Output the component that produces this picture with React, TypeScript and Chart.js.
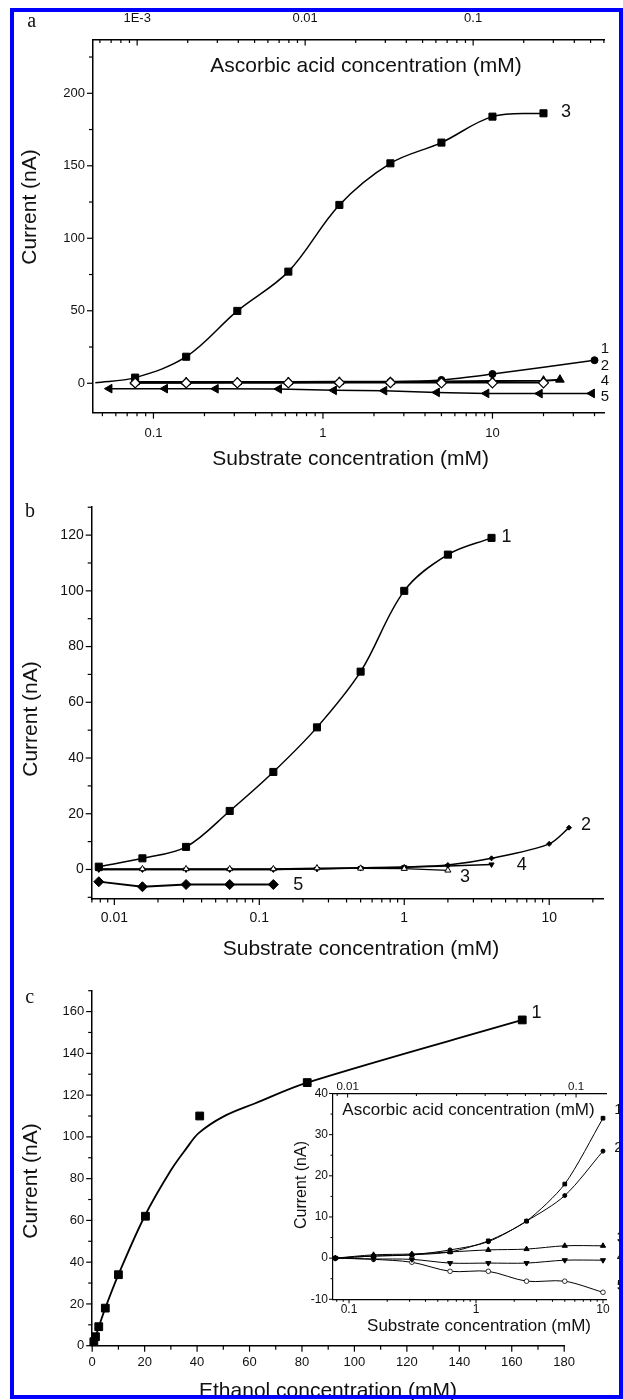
import React, { useEffect, useRef } from 'react';
import { Chart, registerables } from 'chart.js';

Chart.register(...registerables);

const SANS = '"Liberation Sans", Arial, Helvetica, sans-serif';
const SERIF = '"Liberation Serif", "Times New Roman", Times, serif';
const INK = '#111111';

// ======================= DATA =======================
// Panel a : substrate concentration (mM, log) vs current (nA)
const aS3X = [0.0454, 0.078, 0.156, 0.3125, 0.625, 1.25, 2.5, 5, 10, 20];
const aS3Y = [0.4, 3.9, 18.3, 49.9, 77, 123, 151.7, 166, 183.9, 186.2];
const aS1X = [0.078, 0.156, 0.3125, 0.625, 1.25, 2.5, 5, 10, 40];
const aS1Y = [0.3, 0.3, 0.3, 0.4, 0.6, 1.0, 2.3, 6.4, 15.9];
const aS2X = [0.078, 0.156, 0.3125, 0.625, 1.25, 2.5, 5, 10, 20];
const aS2Y = [0.2, 0.2, 0.3, 0.3, 0.4, 0.4, 0.3, 0.3, 0.3];
const aS4X = [0.078, 0.156, 0.3125, 0.625, 1.25, 2.5, 5, 10, 20, 25];
const aS4Y = [0.8, 0.8, 0.8, 0.9, 1.0, 1.0, 1.2, 1.5, 1.8, 2.5];
const aS5X = [0.055, 0.117, 0.233, 0.55, 1.16, 2.3, 4.7, 9.2, 19, 38.6];
const aS5Y = [-3.7, -3.7, -3.8, -3.9, -4.9, -5.1, -6.3, -7.0, -7.1, -7.0];
const aXTicks = [0.1, 1, 10];
const aXLabels = ['0.1', '1', '10'];
const aTopTicks = [0.001, 0.01, 0.1];
const aTopLabels = ['1E-3', '0.01', '0.1'];
const aYTicks = [0, 50, 100, 150, 200];
const aYLabels = ['0', '50', '100', '150', '200'];
const aYMinor = [25, 75, 125, 175, 225];
const aXRange = [0.044, 45.5];
const aTopRange = [5.46e-4, 0.601];
const aYRange = [-20.3, 237.1];

// Panel b
const bConc = [0.0078125, 0.015625, 0.03125, 0.0625, 0.125, 0.25, 0.5, 1, 2, 4];
const bS1Y = [1, 4, 8.1, 21, 35, 51, 71, 100, 113, 119];
const bS2X = [0.0078125, 0.015625, 0.03125, 0.0625, 0.125, 0.25, 0.5, 1, 2, 4, 10, 13.7];
const bS2Y = [0, 0, 0, 0, 0, 0.3, 0.6, 0.9, 1.6, 4, 9.2, 15];
const bS3X = [0.0078125, 0.015625, 0.03125, 0.0625, 0.125, 0.25, 0.5, 1, 2];
const bS3Y = [0.2, 0.2, 0.2, 0.2, 0.2, 0.5, 0.4, 0.3, -0.3];
const bS4Y = [0, 0, 0, 0, 0, 0.2, 0.5, 0.8, 1.2, 1.8];
const bS5X = [0.0078125, 0.015625, 0.03125, 0.0625, 0.125];
const bS5Y = [-4.4, -6.2, -5.4, -5.4, -5.4];
const bXTicks = [0.01, 0.1, 1, 10];
const bXLabels = ['0.01', '0.1', '1', '10'];
const bYTicks = [0, 20, 40, 60, 80, 100, 120];
const bYLabels = ['0', '20', '40', '60', '80', '100', '120'];
const bYMinor = [-10, 10, 30, 50, 70, 90, 110, 130];
const bXRange = [0.00698, 23.5];
const bYRange = [-10.6, 130.2];

// Panel c : ethanol concentration (mM) vs current (nA)
const cX = [0.625, 1.25, 2.5, 5, 10, 20.3, 41, 82, 164];
const cY = [1.9, 4.3, 9.1, 18, 34, 62, 110, 126, 156];
const cFitX = [0, 1.25, 2.5, 5, 10, 20, 30, 36, 40.6, 50, 62, 82, 164];
const cFitY = [0, 4.3, 9, 18, 34, 62, 84, 94.6, 101.8, 109.7, 116, 126, 156];
const cXTicks = [0, 20, 40, 60, 80, 100, 120, 140, 160, 180];
const cXLabels = ['0', '20', '40', '60', '80', '100', '120', '140', '160', '180'];
const cXMinor = [10, 30, 50, 70, 90, 110, 130, 150, 170];
const cYTicks = [0, 20, 40, 60, 80, 100, 120, 140, 160];
const cYLabels = ['0', '20', '40', '60', '80', '100', '120', '140', '160'];
const cYMinor = [10, 30, 50, 70, 90, 110, 130, 150, 170];
const cXRange = [0, 180];
const cYRange = [0, 170];

// Inset
const iConc = [0.078, 0.156, 0.3125, 0.625, 1.25, 2.5, 5, 10];
const iS1 = [0, 0.5, 0.8, 1.5, 4.2, 9, 18, 34];
const iS2 = [0, 0.5, 0.8, 2, 4, 9, 15.2, 26];
const iS3 = [0, 0.8, 1.0, 1.5, 2.0, 2.2, 3.0, 3.0];
const iS4 = [0, -0.2, -0.3, -1.2, -1.2, -1.2, -0.5, -0.5];
const iS5 = [0, -0.3, -1, -3.2, -3.2, -5.6, -5.6, -8.3];
const iXTicks = [0.1, 1, 10];
const iXLabels = ['0.1', '1', '10'];
const iTopTicks = [0.01, 0.1];
const iTopLabels = ['0.01', '0.1'];
const iYTicks = [-10, 0, 10, 20, 30, 40];
const iYLabels = ['-10', '0', '10', '20', '30', '40'];
const iYMinor = [-5, 5, 15, 25, 35];
const iXRange = [0.0748, 10.56];
const iTopRange = [0.00863, 0.1352];
const iYRange = [-10, 40];

// ======================= HELPERS =======================
function logMinors(min: number, max: number): number[] {
  const out: number[] = [];
  for (let e = Math.floor(Math.log10(min)); e <= Math.ceil(Math.log10(max)); e++) {
    for (let m = 2; m <= 9; m++) {
      const v = parseFloat((m * Math.pow(10, e)).toPrecision(6));
      if (v >= min && v <= max) out.push(v);
    }
  }
  return out;
}

const pts = (xs: number[], ys: number[]) => xs.map((x, i) => ({ x, y: ys[i] }));

function axis(o: any) {
  return {
    type: o.type,
    position: o.position,
    min: o.range[0],
    max: o.range[1],
    bounds: 'data',
    grid: {
      display: true,
      drawOnChartArea: false,
      drawTicks: o.tl > 0,
      tickLength: o.tl,
      tickColor: 'rgba(0,0,0,0)',
    },
    border: { display: true, color: '#000', width: o.bw },
    ticks: {
      autoSkip: false,
      maxRotation: 0,
      minRotation: 0,
      padding: o.pad,
      color: INK,
      font: { family: SANS, size: o.fontSize },
      callback: (v: number) => {
        const i = o.major.findIndex((m: number) => Math.abs(m - v) <= Math.abs(m) * 1e-6 + 1e-12);
        return i >= 0 ? o.labels[i] : '';
      },
    },
    afterBuildTicks: (s: any) => {
      s.ticks = o.major.filter((v: number) => v >= o.range[0] && v <= o.range[1]).map((v: number) => ({ value: v }));
    },
    afterFit: (s: any) => {
      if (o.position === 'left') s.width = o.size;
      else s.height = o.size;
    },
  };
}

function ds(data: any[], o: any) {
  return {
    data,
    showLine: o.line !== false,
    borderColor: '#000',
    borderWidth: o.lw ?? 1.5,
    cubicInterpolationMode: 'default',
    tension: o.tension ?? 0,
    pointStyle: o.style,
    pointRadius: o.r,
    pointRotation: o.rot ?? 0,
    pointBackgroundColor: o.fill ?? '#000',
    pointBorderColor: '#000',
    pointBorderWidth: o.bw ?? 1,
    fill: false,
    clip: false,
  };
}

function makeDeco(spec: any) {
  return {
    id: 'deco',
    afterDraw(chart: any) {
      const ctx = chart.ctx;
      ctx.save();
      ctx.strokeStyle = '#000';
      ctx.lineCap = 'butt';
      for (const t of spec.ticks) {
        const sc = chart.scales[t.id];
        if (!sc) continue;
        ctx.lineWidth = t.width;
        const draw = (v: number, len: number) => {
          if (v < sc.min - 1e-12 || v > sc.max + 1e-12) return;
          const p = sc.getPixelForValue(v);
          ctx.beginPath();
          if (sc.isHorizontal()) {
            const base = sc.position === 'top' ? sc.bottom : sc.top;
            const dir = (sc.position === 'top' ? -1 : 1) * (t.inward ? -1 : 1);
            ctx.moveTo(p, base);
            ctx.lineTo(p, base + dir * len);
          } else {
            const base = sc.right;
            const dir = t.inward ? 1 : -1;
            ctx.moveTo(base, p);
            ctx.lineTo(base + dir * len, p);
          }
          ctx.stroke();
        };
        t.minor.forEach((v: number) => draw(v, t.minorLen));
        t.major.forEach((v: number) => draw(v, t.majorLen));
      }
      for (const tx of spec.texts) {
        ctx.save();
        ctx.fillStyle = INK;
        ctx.font = `${tx.size}px ${tx.font || SANS}`;
        ctx.textAlign = 'center';
        ctx.textBaseline = 'middle';
        const x = tx.x - spec.rect.left;
        const y = tx.y - spec.rect.top;
        if (tx.rotate) {
          ctx.translate(x, y);
          ctx.rotate(-Math.PI / 2);
          ctx.fillText(tx.text, 0, 0);
        } else {
          ctx.fillText(tx.text, x, y);
        }
        ctx.restore();
      }
      ctx.restore();
    },
  };
}

// ======================= PANELS =======================
const panelA = {
  rect: { left: 0, top: 0, width: 623, height: 480 },
  padding: { left: 0, top: 0, right: 19, bottom: 480 - 412.7 - 30 },
  scales: {
    x: axis({ type: 'logarithmic', position: 'bottom', range: aXRange, major: aXTicks, labels: aXLabels, size: 30, tl: 6, pad: 6.8, fontSize: 13, bw: 1.5 }),
    x2: axis({ type: 'logarithmic', position: 'top', range: aTopRange, major: aTopTicks, labels: aTopLabels, size: 39.5, tl: 6, pad: 7.4, fontSize: 13, bw: 1.5 }),
    y: axis({ type: 'linear', position: 'left', range: aYRange, major: aYTicks, labels: aYLabels, size: 93, tl: 6, pad: 2, fontSize: 13, bw: 1.5 }),
  },
  datasets: [
    ds(pts(aS2X, aS2Y), { style: 'rectRot', r: 5, fill: '#fff', bw: 1.2, lw: 1.5 }),
    { ...ds(pts(aS3X, aS3Y), { style: 'rect', r: 5, lw: 1.5, tension: 0.35 }), pointRadius: (c: any) => (c.dataIndex === 0 ? 0 : 5) },
    ds(pts(aS1X, aS1Y), { style: 'circle', r: 3.5, lw: 1.5, tension: 0.3 }),
    ds(pts(aS4X, aS4Y), { style: 'triangle', r: 5, lw: 2 }),
    ds(pts(aS5X, aS5Y), { style: 'triangle', rot: -90, r: 5, lw: 1.5 }),
  ],
  ticks: [
    { id: 'x', major: aXTicks, minor: logMinors(aXRange[0], aXRange[1]), majorLen: 6, minorLen: 3.5, width: 1.2 },
    { id: 'x2', major: aTopTicks, minor: logMinors(aTopRange[0], aTopRange[1]), majorLen: 6, minorLen: 3.5, width: 1.2, inward: true },
    { id: 'y', major: aYTicks, minor: aYMinor, majorLen: 6, minorLen: 4, width: 1.2 },
  ],
  texts: [
    { text: 'a', x: 31.8, y: 21.7, size: 20, font: SERIF },
    { text: 'Ascorbic acid concentration (mM)', x: 366, y: 66.7, size: 21 },
    { text: 'Substrate concentration (mM)', x: 350.6, y: 459, size: 21 },
    { text: 'Current (nA)', x: 30, y: 207, size: 21, rotate: true },
    { text: '3', x: 566, y: 111.7, size: 18 },
    { text: '1', x: 605, y: 349, size: 15 },
    { text: '2', x: 605, y: 366, size: 15 },
    { text: '4', x: 605, y: 381, size: 15 },
    { text: '5', x: 605, y: 396.5, size: 15 },
  ],
};

const panelB = {
  rect: { left: 0, top: 480, width: 623, height: 480 },
  padding: { left: 0, top: 506.7 - 480, right: 20, bottom: 960 - 899 - 30 },
  scales: {
    x: axis({ type: 'logarithmic', position: 'bottom', range: bXRange, major: bXTicks, labels: bXLabels, size: 30, tl: 6, pad: 4.9, fontSize: 14, bw: 1.5 }),
    y: axis({ type: 'linear', position: 'left', range: bYRange, major: bYTicks, labels: bYLabels, size: 91.7, tl: 6, pad: 2, fontSize: 14, bw: 1.5 }),
  },
  datasets: [
    ds(pts(bConc, bS1Y), { style: 'rect', r: 5, lw: 1.5, tension: 0.35 }),
    ds(pts(bS5X, bS5Y), { style: 'rectRot', r: 5, lw: 1.8 }),
    ds(pts(bS3X, bS3Y), { style: 'triangle', r: 3.5, fill: '#fff', lw: 1.2 }),
    ds(pts(bS2X, bS2Y), { style: 'rectRot', r: 2.5, lw: 1.5, tension: 0.3 }),
    ds(pts(bConc, bS4Y), { style: 'triangle', rot: 180, r: 3, lw: 1.5 }),
  ],
  ticks: [
    { id: 'x', major: bXTicks, minor: logMinors(bXRange[0], bXRange[1]), majorLen: 6, minorLen: 3.5, width: 1.2 },
    { id: 'y', major: bYTicks, minor: bYMinor, majorLen: 6, minorLen: 4, width: 1.2 },
  ],
  texts: [
    { text: 'b', x: 30, y: 511.7, size: 20, font: SERIF },
    { text: 'Substrate concentration (mM)', x: 361, y: 949.3, size: 21 },
    { text: 'Current (nA)', x: 31, y: 719, size: 21, rotate: true },
    { text: '1', x: 506.6, y: 536.7, size: 18 },
    { text: '2', x: 586, y: 825, size: 18 },
    { text: '3', x: 465, y: 876.7, size: 18 },
    { text: '4', x: 521.7, y: 865, size: 18 },
    { text: '5', x: 298.3, y: 885, size: 18 },
  ],
};

const panelC = {
  rect: { left: 0, top: 960, width: 623, height: 440 },
  padding: { left: 0, top: 990.7 - 960, right: 623 - 564.2, bottom: 1400 - 1345.7 - 30 },
  scales: {
    x: axis({ type: 'linear', position: 'bottom', range: cXRange, major: cXTicks, labels: cXLabels, size: 30, tl: 6, pad: 2.8, fontSize: 13, bw: 1.5 }),
    y: axis({ type: 'linear', position: 'left', range: cYRange, major: cYTicks, labels: cYLabels, size: 92.2, tl: 6, pad: 2, fontSize: 13, bw: 1.5 }),
  },
  datasets: [
    ds(pts(cX, cY), { style: 'rect', r: 5.5, line: false }),
    ds(pts(cFitX, cFitY), { style: 'circle', r: 0, lw: 1.8, tension: 0.35 }),
  ],
  ticks: [
    { id: 'x', major: cXTicks, minor: cXMinor, majorLen: 6, minorLen: 4, width: 1.2 },
    { id: 'y', major: cYTicks, minor: cYMinor, majorLen: 6, minorLen: 4, width: 1.2 },
  ],
  texts: [
    { text: 'c', x: 29.8, y: 998, size: 20, font: SERIF },
    { text: 'Ethanol concentration (mM)', x: 328, y: 1391.7, size: 21 },
    { text: 'Current (nA)', x: 31, y: 1181, size: 21, rotate: true },
    { text: '1', x: 536.4, y: 1013.3, size: 18 },
  ],
};

const panelInset = {
  rect: { left: 280, top: 1070, width: 343, height: 275 },
  padding: { left: 0, top: 0, right: 343 - 326, bottom: 275 - 229.3 - 20 },
  scales: {
    x: axis({ type: 'logarithmic', position: 'bottom', range: iXRange, major: iXTicks, labels: iXLabels, size: 20, tl: 3, pad: 0.5, fontSize: 12, bw: 1.2 }),
    x2: axis({ type: 'logarithmic', position: 'top', range: iTopRange, major: iTopTicks, labels: iTopLabels, size: 23.5, tl: 0, pad: 0, fontSize: 11.5, bw: 1.2 }),
    y: axis({ type: 'linear', position: 'left', range: iYRange, major: iYTicks, labels: iYLabels, size: 53, tl: 3, pad: 2, fontSize: 12, bw: 1.2 }),
  },
  datasets: [
    ds(pts(iConc, iS1), { style: 'rect', r: 2.6, lw: 1, tension: 0.25 }),
    ds(pts(iConc, iS2), { style: 'circle', r: 2, lw: 1, tension: 0.3 }),
    ds(pts(iConc, iS3), { style: 'triangle', r: 3, lw: 1, tension: 0.3 }),
    ds(pts(iConc, iS4), { style: 'triangle', rot: 180, r: 3, lw: 1, tension: 0.3 }),
    ds(pts(iConc, iS5), { style: 'circle', r: 2.3, fill: '#fff', lw: 1, bw: 0.8, tension: 0.3 }),
  ],
  ticks: [
    { id: 'x', major: iXTicks, minor: logMinors(iXRange[0], iXRange[1]), majorLen: 4, minorLen: 2.5, width: 1 },
    { id: 'x2', major: iTopTicks, minor: logMinors(iTopRange[0], iTopRange[1]), majorLen: 4, minorLen: 2.5, width: 1, inward: true },
    { id: 'y', major: iYTicks, minor: iYMinor, majorLen: 4, minorLen: 2.5, width: 1 },
  ],
  texts: [
    { text: 'Ascorbic acid concentration (mM)', x: 468.5, y: 1110.7, size: 17 },
    { text: 'Substrate concentration (mM)', x: 479, y: 1326.7, size: 17 },
    { text: 'Current (nA)', x: 302, y: 1185, size: 16, rotate: true },
    { text: '1', x: 618.5, y: 1110, size: 15 },
    { text: '2', x: 618.5, y: 1148.3, size: 15 },
    { text: '3', x: 621, y: 1238.3, size: 15 },
    { text: '4', x: 621, y: 1256.7, size: 15 },
    { text: '5', x: 621, y: 1286, size: 15 },
  ],
};

function ChartPanel({ spec }: { spec: any }) {
  const ref = useRef<HTMLCanvasElement>(null);
  useEffect(() => {
    const canvas = ref.current;
    if (!canvas) return;
    const chart = new Chart(canvas, {
      type: 'scatter',
      data: { datasets: spec.datasets },
      options: {
        responsive: false,
        maintainAspectRatio: false,
        animation: false,
        events: [],
        layout: { padding: spec.padding },
        plugins: { legend: { display: false }, tooltip: { enabled: false }, title: { display: false } },
        scales: spec.scales,
      },
      plugins: [makeDeco(spec)],
    } as any);
    return () => chart.destroy();
  }, [spec]);
  const r = spec.rect;
  return (
    <canvas
      ref={ref}
      width={r.width}
      height={r.height}
      style={{ position: 'absolute', left: r.left, top: r.top, width: r.width, height: r.height }}
    />
  );
}

export default function App() {
  return (
    <div style={{ position: 'absolute', left: 0, top: 0, width: 623, height: 1400, background: '#fff', overflow: 'hidden' }}>
      <ChartPanel spec={panelA} />
      <ChartPanel spec={panelB} />
      <ChartPanel spec={panelC} />
      <ChartPanel spec={panelInset} />
      <div
        style={{
          position: 'absolute',
          left: 10,
          top: 8,
          width: 613,
          height: 1391,
          border: '4px solid #0000ff',
          boxSizing: 'border-box',
          pointerEvents: 'none',
        }}
      />
    </div>
  );
}
